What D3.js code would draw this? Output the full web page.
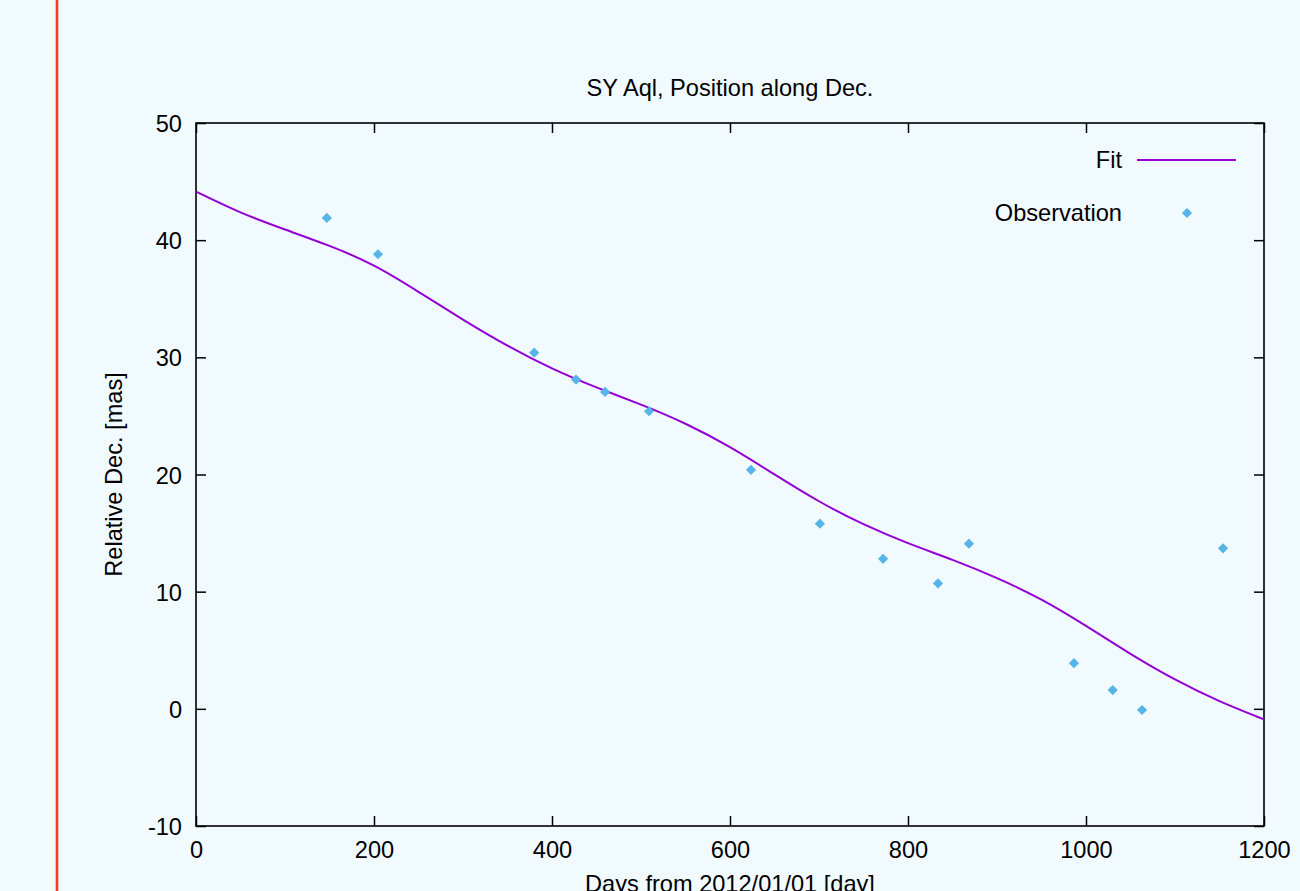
<!DOCTYPE html>
<html>
<head>
<meta charset="utf-8">
<script src="https://cdn.jsdelivr.net/npm/d3@7"></script>
<style>
  html, body { margin: 0; padding: 0; background: #f1faff; }
  svg { display: block; }
  text { font-family: "Liberation Sans", Arial, Helvetica, sans-serif; fill: #000; }
</style>
</head>
<body>
<svg id="chart" width="1300" height="891"></svg>
<script>
// Observed positions along declination
const obsDays = [147, 204.5, 380, 427, 459.6, 509, 623.6, 701, 772, 833.7, 868.5, 986.5, 1030, 1063, 1154];
const obsDec  = [41.9, 38.8, 30.4, 28.1, 27.05, 25.4, 20.4, 15.8, 12.8, 10.7, 14.1, 3.9, 1.6, -0.1, 13.7];

// Fitted model curve, sampled every 50 days
const fitDays = [0, 50, 100, 150, 200, 250, 300, 350, 400, 450, 500, 550, 600, 650, 700, 750, 800, 850, 900, 950, 1000, 1050, 1100, 1150, 1200];
const fitDec  = [44.15, 42.3, 40.9, 39.55, 37.95, 35.6, 33.2, 30.95, 29.0, 27.4, 26.0, 24.4, 22.4, 20.0, 17.65, 15.7, 14.1, 12.75, 11.2, 9.4, 7.1, 4.65, 2.45, 0.6, -0.9];

const xTicks = [0, 200, 400, 600, 800, 1000, 1200];
const yTicks = [-10, 0, 10, 20, 30, 40, 50];

const titleText = "SY Aql, Position along Dec.";
const xLabel = "Days from 2012/01/01 [day]";
const yLabel = "Relative Dec. [mas]";
const legendFit = "Fit";
const legendObs = "Observation";

const svg = d3.select("#chart");
const W = 1300, H = 891;
const plotL = 196, plotR = 1264, plotT = 123, plotB = 826;
const fs = 23.6;

svg.append("rect").attr("width", W).attr("height", H).attr("fill", "#f1faff");

// red margin line
svg.append("line")
  .attr("x1", 57).attr("x2", 57).attr("y1", 0).attr("y2", H)
  .attr("stroke", "#ff3a1c").attr("stroke-width", 2.6);

const x = d3.scaleLinear().domain([0, 1200]).range([plotL, plotR]);
const y = d3.scaleLinear().domain([-10, 50]).range([plotB, plotT]);

const tick = 10;
const plain = d => String(d);

function styleAxis(g) {
  g.select(".domain").remove();
  g.selectAll(".tick line").attr("stroke", "#000").attr("stroke-width", 1.5);
  g.selectAll(".tick text").attr("font-size", fs).attr("font-family", "Liberation Sans, Arial, sans-serif");
}

svg.append("g").attr("transform", `translate(0,${plotB})`)
  .call(d3.axisBottom(x).tickValues(xTicks).tickFormat(plain).tickSizeInner(-tick).tickSizeOuter(0).tickPadding(15.5))
  .call(styleAxis);
svg.append("g").attr("transform", `translate(0,${plotT})`)
  .call(d3.axisTop(x).tickValues(xTicks).tickFormat("").tickSizeInner(-tick).tickSizeOuter(0))
  .call(styleAxis);
svg.append("g").attr("transform", `translate(${plotL},0)`)
  .call(d3.axisLeft(y).tickValues(yTicks).tickFormat(plain).tickSizeInner(-tick).tickSizeOuter(0).tickPadding(14))
  .call(styleAxis)
  .selectAll(".tick text").attr("dy", "0.36em");
svg.append("g").attr("transform", `translate(${plotR},0)`)
  .call(d3.axisRight(y).tickValues(yTicks).tickFormat("").tickSizeInner(-tick).tickSizeOuter(0))
  .call(styleAxis);

// plot border
svg.append("rect")
  .attr("x", plotL).attr("y", plotT).attr("width", plotR - plotL).attr("height", plotB - plotT)
  .attr("fill", "none").attr("stroke", "#000").attr("stroke-width", 1.6);

// fit curve
const fitData = fitDays.map((d, i) => [d, fitDec[i]]);
svg.append("path")
  .datum(fitData)
  .attr("fill", "none")
  .attr("stroke", "#9400d3")
  .attr("stroke-width", 2)
  .attr("d", d3.line().x(d => x(d[0])).y(d => y(d[1])).curve(d3.curveBasis));

// observations as diamonds
const diamond = d3.symbol().type(d3.symbolSquare).size(52);
svg.append("g").selectAll("path")
  .data(obsDays.map((d, i) => [d, obsDec[i]]))
  .join("path")
  .attr("d", diamond)
  .attr("fill", "#56b4e9")
  .attr("transform", d => `translate(${x(d[0])},${y(d[1])}) rotate(45)`);

// title
svg.append("text")
  .attr("x", (plotL + plotR) / 2).attr("y", 96)
  .attr("text-anchor", "middle").attr("font-size", fs)
  .text(titleText);

// axis labels
svg.append("text")
  .attr("x", (plotL + plotR) / 2).attr("y", 892)
  .attr("text-anchor", "middle").attr("font-size", fs)
  .text(xLabel);
svg.append("text")
  .attr("transform", `translate(122,${(plotT + plotB) / 2}) rotate(-90)`)
  .attr("text-anchor", "middle").attr("font-size", fs)
  .text(yLabel);

// legend
const legX = 1122;
svg.append("text").attr("x", legX).attr("y", 168).attr("text-anchor", "end").attr("font-size", fs).text(legendFit);
svg.append("line").attr("x1", 1137).attr("x2", 1236).attr("y1", 160).attr("y2", 160)
  .attr("stroke", "#9400d3").attr("stroke-width", 2);
svg.append("text").attr("x", legX).attr("y", 221).attr("text-anchor", "end").attr("font-size", fs).text(legendObs);
svg.append("path").attr("d", diamond).attr("fill", "#56b4e9")
  .attr("transform", "translate(1187,213) rotate(45)");
</script>
</body>
</html>
